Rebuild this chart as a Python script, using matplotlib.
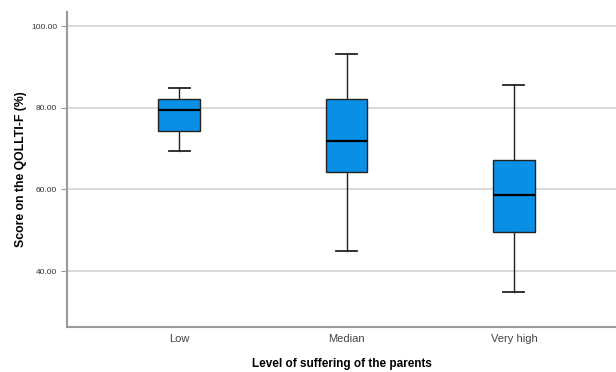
import matplotlib.pyplot as plt

plt.rcParams["font.family"] = ["Liberation Sans", "DejaVu Sans"]

# values
groups = ["Low", "Median", "Very high"]
whis_lo = [69.5, 45.0, 34.9]
q1 = [74.4, 64.2, 49.6]
med = [79.5, 71.9, 58.7]
q3 = [82.1, 82.3, 67.2]
whis_hi = [84.8, 93.2, 85.6]
yticks = [40, 60, 80, 100]

stats = []
for i, g in enumerate(groups):
    stats.append({"label": g, "whislo": whis_lo[i], "q1": q1[i], "med": med[i],
                  "q3": q3[i], "whishi": whis_hi[i], "fliers": []})

fig = plt.figure(figsize=(6.16, 3.72), dpi=100)
ax = fig.add_axes([67 / 616, 1 - 327 / 372, 549 / 616, 315 / 372])

ax.bxp(stats, positions=[1, 2, 3], widths=0.25, patch_artist=True,
       showfliers=False, capwidths=0.125,
       boxprops=dict(facecolor="#0a8fe6", edgecolor="#222222", linewidth=1.0),
       medianprops=dict(color="black", linewidth=1.6),
       whiskerprops=dict(color="#222222", linewidth=1.0),
       capprops=dict(color="#222222", linewidth=1.3))

ax.set_xlim(0.33, 3.61)
ax.set_ylim(26.3, 103.5)
ax.set_yticks(yticks)
ax.set_yticklabels([f"{v:.2f}" for v in yticks], fontsize=6, color="#333333")
ax.tick_params(axis="x", labelsize=8, colors="#444444", length=0, pad=5)
ax.tick_params(axis="y", length=4, color="#999999", width=0.8, pad=3)

ax.yaxis.grid(True, color="#d4d4d4", linewidth=1.2)
ax.set_axisbelow(True)
for side in ["top", "right"]:
    ax.spines[side].set_visible(False)
for side in ["left", "bottom"]:
    ax.spines[side].set_color("#9a9a9a")
    ax.spines[side].set_linewidth(1.5)

ax.set_xlabel("Level of suffering of the parents", fontsize=8.5, fontweight="bold", labelpad=10)
ax.set_ylabel("Score on the QOLLTI-F (%)", fontsize=8.8, fontweight="bold", labelpad=3)

fig.savefig("out.png", dpi=100)
